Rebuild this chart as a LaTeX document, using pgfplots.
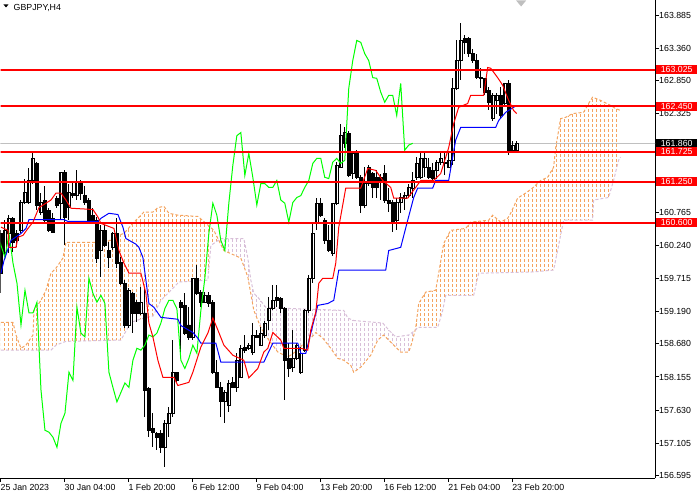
\documentclass[border=0pt]{standalone}
\usepackage{fontspec}
\setmainfont{Liberation Sans}
\usepackage{pgfplots}
\pgfplotsset{compat=1.18}
\usepackage{pgfplotstable}
\usepgfplotslibrary{fillbetween}

\definecolor{tenkan}{RGB}{255,0,0}
\definecolor{kijun}{RGB}{0,0,255}
\definecolor{chikou}{RGB}{0,255,0}
\definecolor{spanA}{RGB}{244,164,96}
\definecolor{spanB}{RGB}{216,191,216}
\definecolor{bidgray}{RGB}{192,192,192}
\definecolor{lvl}{RGB}{255,0,0}

\tikzset{lab/.style={anchor=west, xshift=1pt, text=white, inner xsep=0pt, inner ysep=0pt,
    minimum width=41pt, minimum height=9pt, font=\fontsize{8.8}{10}\selectfont}}

% MT4 histogram hatch: one dashed vertical line per bar, clipped to the cloud
\newcommand\hatch[3]{%
  \foreach \k in {#2,...,#3} {%
    \draw[#1, line width=1pt, dash pattern=on 3pt off 2pt]
      (axis cs:\k,156.5) -- (axis cs:\k,164.2);}}

% GBPJPY H4 candles: bar, open, high, low, close
\pgfplotstableread{
x o h l c
0 160.43 160.48 159.48 159.80
1 160.13 160.64 160.05 160.48
2 160.43 160.72 160.12 160.67
3 160.67 160.69 160.13 160.29
4 160.43 160.48 160.21 160.32
5 160.48 160.96 160.43 160.92
6 160.92 161.30 160.91 161.08
7 160.92 161.46 160.91 161.27
8 161.27 161.71 161.22 161.62
9 161.54 161.56 160.80 160.88
10 160.77 161.07 160.72 160.92
11 160.96 161.19 160.61 160.64
12 160.80 160.84 160.45 160.48
13 160.67 160.75 160.43 160.45
14 160.99 161.03 160.84 160.88
15 160.91 161.40 160.64 161.40
16 161.40 161.43 160.24 160.69
17 160.84 161.22 160.64 161.08
18 161.07 161.24 161.00 161.03
19 161.03 161.43 160.96 161.24
20 161.24 161.27 160.96 161.07
21 161.03 161.19 160.88 160.92
22 160.96 161.00 160.61 160.64
23 160.72 160.84 160.59 160.64
24 160.64 160.69 159.96 160.04
25 160.16 160.56 159.74 160.48
26 160.48 160.56 160.21 160.24
27 160.16 160.29 159.89 160.05
28 160.21 160.45 160.16 160.43
29 160.43 160.67 159.89 159.96
30 159.97 160.05 159.61 159.64
31 159.64 159.69 158.93 158.98
32 158.98 159.56 158.93 159.53
33 159.48 159.50 158.86 159.17
34 159.34 159.37 159.02 159.17
35 159.17 159.58 159.13 159.34
36 159.17 159.58 157.52 157.95
37 157.98 157.99 157.20 157.31
38 157.34 157.58 157.04 157.28
39 157.26 157.28 157.00 157.20
40 157.26 157.31 156.95 157.04
41 157.04 157.47 156.73 157.42
42 157.42 157.68 157.20 157.58
43 157.58 158.74 157.52 158.23
44 158.23 158.23 158.06 158.10
45 159.34 159.37 158.53 159.26
46 159.29 159.48 158.82 158.85
47 158.98 159.26 158.74 158.79
48 158.79 159.72 158.74 159.72
49 159.72 159.93 159.45 159.48
50 159.50 159.53 159.26 159.34
51 159.34 159.50 159.32 159.45
52 159.45 159.50 159.26 159.32
53 159.34 159.37 158.21 158.23
54 158.23 158.42 157.98 157.99
55 157.99 158.07 157.52 157.76
56 157.76 157.95 157.42 157.91
57 157.71 158.10 157.60 158.06
58 158.07 158.15 157.98 157.99
59 157.99 158.53 157.91 158.42
60 158.15 158.66 158.14 158.61
61 158.63 158.82 158.53 158.58
62 158.61 158.69 158.58 158.66
63 158.55 159.01 158.50 158.82
64 158.82 158.90 158.77 158.79
65 158.66 158.94 158.64 158.85
66 158.82 159.05 158.77 159.01
67 159.05 159.42 158.90 159.24
68 159.24 159.61 159.21 159.37
69 159.42 159.61 159.26 159.37
70 159.40 159.42 159.17 159.24
71 159.24 159.26 157.79 158.42
72 158.45 158.69 158.15 158.29
73 158.31 158.90 158.23 158.45
74 158.45 158.69 158.42 158.66
75 158.23 158.63 158.21 158.53
76 158.58 159.24 158.55 159.21
77 159.21 159.77 159.17 159.72
78 159.72 160.59 159.64 160.43
79 160.59 160.99 160.48 160.91
80 160.91 160.99 160.69 160.72
81 160.64 160.67 160.27 160.32
82 160.32 160.56 160.13 160.16
83 160.12 160.92 160.08 160.91
84 160.91 161.56 160.88 161.51
85 161.48 162.17 161.46 161.98
86 161.86 162.11 161.79 162.03
87 162.02 162.06 161.32 161.35
88 161.38 161.71 161.30 161.70
89 161.71 161.75 161.30 161.32
90 161.32 161.35 160.75 160.88
91 160.88 161.48 160.84 161.22
92 161.48 161.51 161.19 161.22
93 161.38 161.40 161.00 161.16
94 161.32 161.43 161.00 161.16
95 161.32 161.38 160.96 161.27
96 161.38 161.51 160.92 160.96
97 160.96 161.15 160.77 160.91
98 160.92 160.96 160.45 160.61
99 160.64 161.00 160.48 160.92
100 160.92 161.07 160.75 161.00
101 160.99 161.08 160.80 161.03
102 161.03 161.22 161.00 161.16
103 161.15 161.40 161.00 161.27
104 161.32 161.64 161.27 161.54
105 161.32 161.70 161.30 161.62
106 161.48 161.71 161.32 161.62
107 161.48 161.62 161.30 161.32
108 161.43 161.54 161.27 161.30
109 161.43 161.59 161.30 161.56
110 161.56 161.70 161.51 161.62
111 161.56 161.70 161.35 161.54
112 161.48 161.70 161.46 161.59
113 161.59 162.90 161.51 162.73
114 162.73 163.49 162.70 163.17
115 163.17 163.76 162.86 163.49
116 163.52 163.57 163.28 163.46
117 163.52 163.54 163.22 163.28
118 163.28 163.36 163.14 163.17
119 163.17 163.28 162.89 162.90
120 162.90 163.06 162.73 162.89
121 162.89 162.90 162.62 162.67
122 162.70 162.75 162.38 162.51
123 162.25 162.65 162.22 162.62
124 162.54 162.65 162.33 162.62
125 162.62 162.75 162.25 162.30
126 162.49 162.82 162.46 162.81
127 162.81 162.86 161.67 161.75
128 161.75 161.90 161.71 161.83
129 161.75 161.90 161.75 161.86
}\candles

\pgfplotstableread{
x y
0 160.53
1.75 160.48
2 160.21
3.75 160.21
4.25 160.37
5.5 160.40
6.75 160.51
8 160.61
9.5 160.84
10.5 160.88
12.5 160.96
13.75 161.07
15 161.07
16.25 160.96
17.5 160.83
23 160.81
24.25 160.69
25 160.59
28.25 160.51
29.5 160.16
30.75 159.96
32 159.80
35 159.80
36.25 159.48
37 159.01
38 158.79
39.25 158.42
40.5 158.15
43.25 158.15
44.25 158.02
47 158.07
48 158.23
50 158.63
51.75 158.85
53 159.09
54.25 158.90
55.75 158.66
58 158.50
60.75 158.42
62 158.14
64.25 158.29
65.75 158.55
66.75 158.61
68 158.86
70 158.74
70.75 158.61
75 158.61
76.75 158.58
77.5 158.90
78.75 159.18
79.5 159.64
80.5 159.72
83 159.72
83.75 159.96
84.5 160.53
86.25 161.15
90 161.15
91.75 161.46
93.75 161.43
95.5 161.27
97.5 161.16
98.25 160.99
101.75 160.99
103.75 161.16
105 161.27
108.25 161.27
110 161.38
112 161.79
113.25 162.17
114.5 162.43
116.75 162.49
117.5 162.62
120.75 162.62
121.75 163.06
122.5 163.05
124.25 162.90
125.5 162.78
127 162.54
128.25 162.38
129 162.33
}\tenkan

\pgfplotstableread{
x y
0 159.80
0.75 160.00
2.5 160.32
5 160.43
6.25 160.51
7 160.65
15.75 160.65
16.75 160.62
24.25 160.62
25 160.67
27 160.75
29.25 160.73
30.5 160.53
31.25 160.35
33.75 160.26
34.5 160.21
35.5 160.05
36.25 159.69
37 159.32
38.25 159.26
40 159.10
44.25 159.07
45 158.97
48 158.86
49.25 158.77
50 158.69
53.75 158.69
55 158.39
65.75 158.39
68 158.69
74.25 158.69
75 158.53
76.25 158.53
77.5 158.85
79.25 159.29
81.75 159.32
83.25 159.37
84.5 159.85
96.25 159.85
97 160.16
100 160.21
101.75 160.64
103.25 161.00
104.25 161.15
108 161.15
108.75 161.27
112 161.27
113 161.64
113.75 161.91
115 162.11
123.75 162.11
124.5 162.22
126.25 162.35
129 162.46
}\kijun

\pgfplotstableread{
x y
0 159.02
3 159.02
3.75 158.82
5 158.61
6.25 158.66
8 158.82
8.25 159.21
10 159.37
11.25 159.53
12.5 159.80
13.75 159.88
15.5 160.04
16.25 160.29
24.25 160.29
24.5 160.43
25 160.32
28.75 160.32
29.25 160.40
30.75 160.43
33 160.59
35 160.72
35.75 160.77
38 160.77
39.25 160.84
40.75 160.86
42 160.75
44.25 160.72
49.25 160.70
50.75 160.62
53.25 160.48
55.75 160.16
60 160.04
61.75 159.74
63.25 159.21
65 158.94
67 158.74
69.25 158.55
71.75 158.47
74.25 158.58
75.75 158.69
77.5 158.77
78.75 158.86
80.5 158.77
82.5 158.61
84.25 158.45
85.75 158.42
87.5 158.34
88.25 158.23
90 158.31
92.5 158.50
94.25 158.74
95.75 158.82
97 158.74
98.75 158.63
100 158.55
102 158.55
102.75 158.69
103.75 158.93
104.5 159.32
106.25 159.50
108.75 159.53
109.5 159.80
110.75 160.27
112.5 160.48
116.25 160.51
117.5 160.61
122 160.64
123 160.72
125 160.61
126.75 160.67
127.5 160.75
129.25 160.99
131.25 161.07
133 161.15
135 161.27
136.75 161.32
138.25 161.48
138.75 161.78
140 162.25
141.25 162.27
143 162.33
145.75 162.35
147 162.49
148 162.59
150 162.54
152.5 162.46
153.75 162.41
155 162.38
}\spanA

\pgfplotstableread{
x y
0 158.58
12.5 158.58
13.75 158.66
16.25 158.72
30 158.74
32.5 159.02
35.75 159.09
38 159.12
40 159.37
41.75 159.48
44.5 159.66
51.75 159.69
52.5 160.24
55 160.35
60.75 160.35
61.75 160.04
62.5 159.69
63.25 159.48
64.25 159.42
66.25 159.26
72.5 159.24
85.75 159.21
86.75 159.09
88.25 159.05
95.5 159.01
97 158.90
98.75 158.79
102 158.82
103.75 158.90
104.25 158.94
109.25 158.94
110.5 159.21
111.25 159.45
118.25 159.45
119.5 159.80
133.25 159.82
138.25 159.85
139.25 160.16
140.75 160.64
148 160.64
148.25 160.96
152 161.00
153.25 161.27
154.5 161.59
155 161.64
}\spanB

\pgfplotsset{
  mt4/.style={
    at={(0pt,0pt)}, anchor=north west,
    scale only axis, width=655pt, height=478pt,
    xmin=-0.125, xmax=163.625, ymin=156.551, ymax=164.123,
    enlargelimits=false,
  },
  every tick label/.append style={font=\fontsize{8.8}{10}\selectfont},
}

\begin{document}
\begin{tikzpicture}

% axis frame, ticks, cloud
\begin{axis}[mt4,
  axis x line*=bottom, axis y line*=right,
  axis line style={black, line width=1pt},
  tick align=outside, major tick length=4pt,
  tick style={black, line width=1pt},
  xtick={0,16,32,48,64,80,96,112,128},
  xticklabels={25 Jan 2023, 30 Jan 04:00, 1 Feb 20:00, 6 Feb 12:00, 9 Feb 04:00, 13 Feb 20:00, 16 Feb 12:00, 21 Feb 04:00, 23 Feb 20:00},
  xticklabel style={anchor=north west, inner sep=0pt, xshift=-0.5pt, yshift=-2pt},
  ytick={156.595,157.105,157.630,158.155,158.680,159.190,159.715,160.240,160.765,162.325,162.850,163.360,163.885},
  yticklabels={156.595,157.105,157.630,158.155,158.680,159.190,159.715,160.240,160.765,162.325,162.850,163.360,163.885},
  yticklabel style={anchor=west, inner sep=0pt, xshift=0pt},
]
\addplot[name path=A, spanA, line width=1pt, dash pattern=on 3pt off 2pt] table {\spanA};
\addplot[name path=B, spanB, line width=1pt, dash pattern=on 3pt off 2pt] table {\spanB};
\addplot[fill=none, draw=none, path picture={\hatch{spanA}{0}{55}}]
  fill between[of=A and B, soft clip={domain=-1:54.5}];
\addplot[fill=none, draw=none, path picture={\hatch{spanB}{54}{104}}]
  fill between[of=A and B, soft clip={domain=54.5:103.5}];
\addplot[fill=none, draw=none, path picture={\hatch{spanA}{103}{156}}]
  fill between[of=A and B, soft clip={domain=103.5:160}];
\addplot[bidgray, line width=1pt] coordinates {(-1,161.86) (170,161.86)};
\end{axis}

% candles: invisible base bar carries the wick, bodies stacked on it
\begin{axis}[mt4, hide axis, ybar stacked, bar width=3pt]
\addplot[draw=none, fill=none,
  error bars/.cd, y dir=both, y explicit, error mark=none,
  error bar style={draw=black, line width=1pt, solid}]
  table[x=x, y expr={min(\thisrow{o},\thisrow{c})},
    y error plus expr={\thisrow{h}-min(\thisrow{o},\thisrow{c})},
    y error minus expr={min(\thisrow{o},\thisrow{c})-\thisrow{l}}] {\candles};
\addplot[fill=white, draw=black, line width=0.8pt]
  table[x=x, y expr={max(\thisrow{c}-\thisrow{o},0)}] {\candles};
\addplot[fill=black, draw=black, line width=0.8pt]
  table[x=x, y expr={max(\thisrow{o}-\thisrow{c},0)}] {\candles};
\end{axis}

% Ichimoku lines, levels and price labels
\begin{axis}[mt4, hide axis, clip mode=individual]
\addplot[chikou, line width=1pt] table[x expr=\thisrow{x}-26, y=c] {\candles};
\addplot[kijun, line width=1pt] table {\kijun};
\addplot[tenkan, line width=1pt] table {\tenkan};
\addplot[lvl, line width=2pt] coordinates {(-1,163.025) (170,163.025)};
\addplot[lvl, line width=2pt] coordinates {(-1,162.450) (170,162.450)};
\addplot[lvl, line width=2pt] coordinates {(-1,161.725) (170,161.725)};
\addplot[lvl, line width=2pt] coordinates {(-1,161.250) (170,161.250)};
\addplot[lvl, line width=2pt] coordinates {(-1,160.600) (170,160.600)};
\node[lab, fill=black] at (axis cs:163.625,161.86) {161.860};
\node[lab, fill=lvl] at (axis cs:163.625,163.025) {163.025};
\node[lab, fill=lvl] at (axis cs:163.625,162.450) {162.450};
\node[lab, fill=lvl] at (axis cs:163.625,161.725) {161.725};
\node[lab, fill=lvl] at (axis cs:163.625,161.250) {161.250};
\node[lab, fill=lvl] at (axis cs:163.625,160.600) {160.600};
\end{axis}

% window caption
\fill[black] (3pt,-4pt) -- (8pt,-4pt) -- (5.5pt,-7pt) -- cycle;
\node[anchor=west, inner sep=0pt, font=\fontsize{8.8}{10}\selectfont] at (13pt,-7pt) {GBPJPY,H4};
\fill[black!25] (516pt,0pt) -- (526pt,0pt) -- (521pt,-6pt) -- cycle;
\path (0pt,-500pt) rectangle (700pt,0pt);
\end{tikzpicture}
\end{document}
